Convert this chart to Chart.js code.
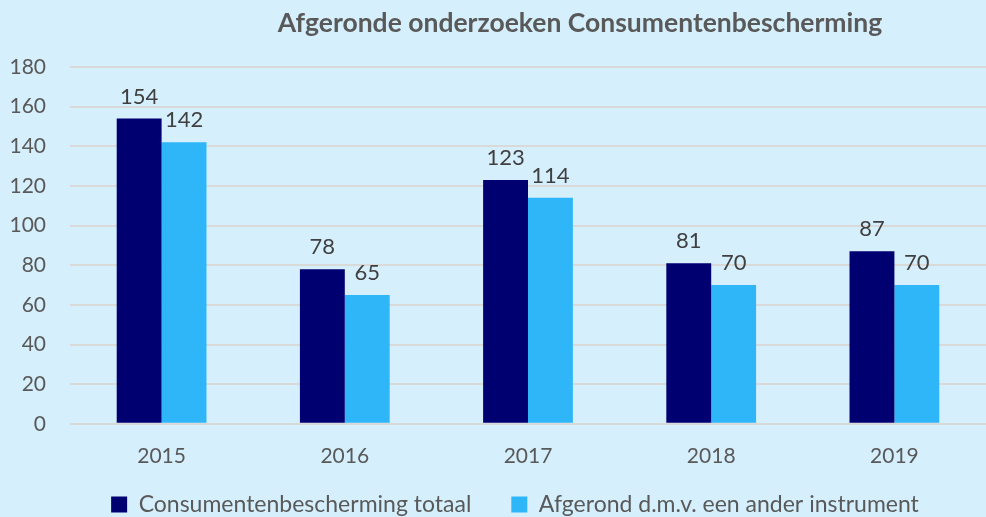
<!DOCTYPE html>
<html>
<head>
<meta charset="utf-8">
<script src="https://cdn.jsdelivr.net/npm/chart.js@4"></script>
<style>
  html, body { margin: 0; padding: 0; background: #d5effc; overflow: hidden; }
  #wrap { width: 986px; height: 554px; }
</style>
</head>
<body>
<div id="wrap"><canvas id="chart" width="986" height="554"></canvas></div>
<script>
const years = ['2015', '2016', '2017', '2018', '2019'];
const totaal = [154, 78, 123, 81, 87];
const anderInstrument = [142, 65, 114, 70, 70];
const chartTitle = 'Afgeronde onderzoeken Consumentenbescherming';

const FONT = 'Lato, "Open Sans", sans-serif';

// title drawn off-centre like the original, data labels above each bar
const extras = {
  id: 'extras',
  afterLayout(chart) {
    // pull the legend up closer to the year labels, and a bit to the right
    const lg = chart.legend;
    lg.top -= 28; lg.bottom -= 28;
    lg.left += 22; lg.right += 22;
  },
  afterDraw(chart) {
    const ctx = chart.ctx;
    ctx.save();
    ctx.fillStyle = '#595959';
    ctx.font = 'bold 26.5px ' + FONT;
    ctx.textAlign = 'center';
    ctx.textBaseline = 'middle';
    ctx.fillText(chartTitle, 580, 23);

    ctx.font = '22px ' + FONT;
    ctx.fillStyle = '#404040';
    ctx.textBaseline = 'alphabetic';
    chart.data.datasets.forEach((ds, i) => {
      chart.getDatasetMeta(i).data.forEach((bar, j) => {
        ctx.fillText(ds.data[j], bar.x, bar.y - 15);
      });
    });
    ctx.restore();
  }
};

new Chart(document.getElementById('chart'), {
  type: 'bar',
  data: {
    labels: years,
    datasets: [
      {
        label: 'Consumentenbescherming totaal',
        data: totaal,
        backgroundColor: '#000070',
        categoryPercentage: 0.49,
        barPercentage: 1.0,
      },
      {
        label: 'Afgerond d.m.v. een ander instrument',
        data: anderInstrument,
        backgroundColor: '#2fb6f8',
        categoryPercentage: 0.49,
        barPercentage: 1.0,
      },
    ],
  },
  options: {
    responsive: false,
    animation: false,
    layout: { padding: { top: 67, left: 0, right: 0, bottom: 0 } },
    scales: {
      x: {
        grid: { display: false },
        border: { display: false },
        ticks: { color: '#595959', font: { family: FONT, size: 21 }, padding: 12 },
      },
      y: {
        min: 0,
        max: 180,
        ticks: { stepSize: 20, color: '#595959', font: { family: FONT, size: 21 }, padding: 24 },
        grid: { color: '#d9d9d9', lineWidth: 2, drawTicks: false },
        border: { display: false },
        afterFit: (scale) => { scale.width = 70; },
      },
    },
    plugins: {
      legend: {
        position: 'bottom',
        labels: {
          boxWidth: 16,
          boxHeight: 16,
          padding: 40,
          color: '#595959',
          font: { family: FONT, size: 23 },
        },
      },
      tooltip: { enabled: false },
    },
  },
  plugins: [extras],
});
</script>
</body>
</html>
